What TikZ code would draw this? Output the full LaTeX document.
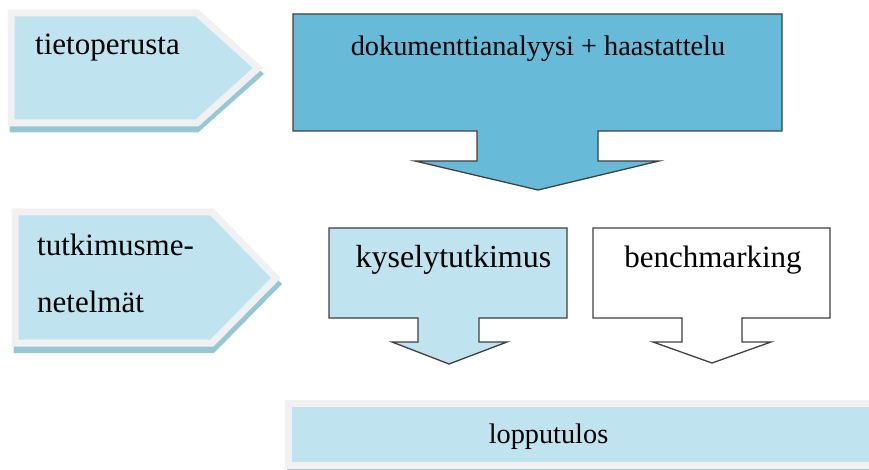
\documentclass[tikz,border=0pt]{standalone}
\usepackage{fontspec}
\setmainfont{Liberation Serif}
\definecolor{darkfill}{HTML}{67BBD8}
\definecolor{lightfill}{HTML}{BFE3EF}
\definecolor{rimgray}{HTML}{F1F1F1}
\definecolor{shadowblue}{HTML}{96C7D7}
\definecolor{strokegray}{HTML}{404040}
\begin{document}
\begin{tikzpicture}[x=1pt,y=-1pt,
  calloutline/.style={draw=strokegray,line width=1.3pt,line join=miter},
  rimshape/.style={fill=lightfill,draw=rimgray,line width=7pt,line join=miter},
  shadowshape/.style={fill=shadowblue},
  lbl/.style={inner sep=0pt,text=black}]
\useasboundingbox (0,0) rectangle (869,470);
\clip (0,0) rectangle (869,470);
% --- left chevron 1
\fill[shadowshape,shift={(2,6)}] (7.5,9.5) -- (196,9.5) -- (262,68) -- (196,126.5) -- (7.5,126.5) -- cycle;
\draw[rimshape] (11,13) -- (197,13) -- (258,68) -- (197,123) -- (11,123) -- cycle;
\node[lbl,anchor=base west,font=\fontsize{31}{36}\selectfont] (tieto) at (35,55) {tietoperusta};
% --- left chevron 2
\fill[shadowshape,shift={(2,6)}] (11.5,208.5) -- (212,208.5) -- (280,278) -- (212,347) -- (11.5,347) -- cycle;
\draw[rimshape] (15,212) -- (212,212) -- (276,278) -- (212,343) -- (15,343) -- cycle;
\node[lbl,anchor=base west,font=\fontsize{31}{36}\selectfont] (tutk1) at (37,255) {tutkimusme-};
\node[lbl,anchor=base west,font=\fontsize{31}{36}\selectfont] (tutk2) at (37,312) {netelmät};
% --- top callout arrow
\draw[calloutline,fill=darkfill] (293,14) -- (782,14) -- (782,131) -- (598,131) -- (598,161) -- (659,161)
  -- (538,190) -- (415,161) -- (477,161) -- (477,131) -- (293,131) -- cycle;
\node[lbl,anchor=base,font=\fontsize{28.3}{34}\selectfont] (doku) at (538,56) {dokumenttianalyysi + haastattelu};
% --- kyselytutkimus callout
\draw[calloutline,fill=lightfill] (329,228) -- (567,228) -- (567,318) -- (479,318) -- (479,342) -- (507,342)
  -- (449,364) -- (392,342) -- (418,342) -- (418,318) -- (329,318) -- cycle;
\node[lbl,anchor=base,font=\fontsize{32}{36}\selectfont] (kysely) at (453.5,267) {kyselytutkimus};
% --- benchmarking callout
\draw[calloutline,fill=white] (593,228) -- (830,228) -- (830,318) -- (742,318) -- (742,342) -- (771,342)
  -- (712,363) -- (653,342) -- (682,342) -- (682,318) -- (593,318) -- cycle;
\node[lbl,anchor=base,font=\fontsize{31}{36}\selectfont] (bench) at (713,267) {benchmarking};
% --- lopputulos bar
\fill[shadowshape,shift={(2,5)}] (284.5,399.5) rectangle (890,465.5);
\draw[rimshape] (288,403) rectangle (885,465);
\node[lbl,anchor=base,font=\fontsize{28.3}{34}\selectfont] (loppu) at (548.5,443) {lopputulos};
\end{tikzpicture}
\end{document}
